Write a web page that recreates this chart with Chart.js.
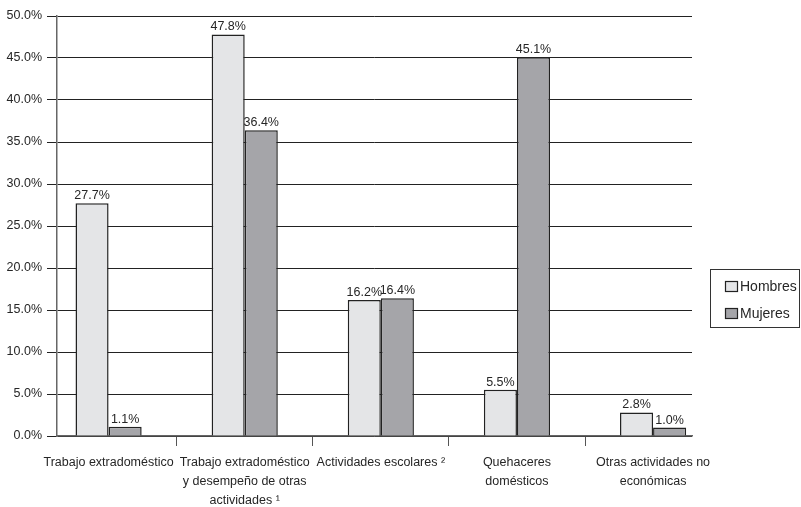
<!DOCTYPE html>
<html><head><meta charset="utf-8">
<script src="https://cdn.jsdelivr.net/npm/chart.js@4.4.0/dist/chart.umd.min.js"></script>
<style>html,body{margin:0;padding:0;background:#fff;overflow:hidden}#wrap{width:801px;height:507px}</style>
</head><body><div id="wrap"><canvas id="c" width="801" height="507"></canvas></div>
<script>
const categories = [
  ["Trabajo extradoméstico"],
  ["Trabajo extradoméstico", "y desempeño de otras", "actividades ¹"],
  ["Actividades escolares ²"],
  ["Quehaceres", "domésticos"],
  ["Otras actividades no", "económicas"]
];
const seriesNames = ["Hombres", "Mujeres"];
const hombres = [27.7, 47.8, 16.2, 5.5, 2.8];
const mujeres = [1.1, 36.4, 16.4, 45.1, 1.0];
const yTickValues = [0, 5, 10, 15, 20, 25, 30, 35, 40, 45, 50];

const FONT = "'Liberation Sans', Arial, sans-serif";
const FS = 12.5;
const TEXT = '#262626';
Chart.defaults.font.family = FONT;
Chart.defaults.font.size = FS;
Chart.defaults.color = TEXT;

const toXY = arr => arr.map((v, i) => ({x: i, y: v}));

const valueLabels = {
  id: 'valueLabels',
  afterDatasetsDraw(chart) {
    const ctx = chart.ctx;
    ctx.save();
    ctx.font = FS + 'px ' + FONT;
    ctx.fillStyle = TEXT;
    ctx.textAlign = 'center';
    ctx.textBaseline = 'alphabetic';
    chart.data.datasets.forEach((ds, di) => {
      const meta = chart.getDatasetMeta(di);
      meta.data.forEach((bar, i) => {
        ctx.fillText(ds.data[i].y.toFixed(1) + '%', bar.x, bar.y - 4);
      });
    });
    ctx.restore();
  }
};

const legendBox = {
  id: 'legendBox',
  afterDraw(chart) {
    const ctx = chart.ctx;
    ctx.save();
    ctx.strokeStyle = '#333';
    ctx.lineWidth = 1;
    ctx.strokeRect(710.5, 269.5, 89, 58);
    ctx.font = '14px ' + FONT;
    ctx.textBaseline = 'middle';
    ctx.textAlign = 'left';
    chart.data.datasets.forEach((ds, i) => {
      const yy = 286 + i * 27;
      ctx.fillStyle = ds.backgroundColor;
      ctx.fillRect(725, yy - 5, 12, 10);
      ctx.strokeStyle = ds.borderColor;
      ctx.lineWidth = 1.2;
      ctx.strokeRect(725.5, yy - 4.5, 12, 10);
      ctx.fillStyle = TEXT;
      ctx.fillText(ds.label, 740, yy + 1);
    });
    ctx.restore();
  }
};

new Chart(document.getElementById('c'), {
  type: 'bar',
  data: {
    datasets: [
      {label: seriesNames[0], data: toXY(hombres), backgroundColor: '#e4e5e7', borderColor: '#222', borderWidth: 1.5},
      {label: seriesNames[1], data: toXY(mujeres), backgroundColor: '#a5a5a9', borderColor: '#222', borderWidth: 1.5}
    ]
  },
  options: {
    responsive: false,
    animation: false,
    devicePixelRatio: 1,
    layout: {padding: {top: 16, right: 109, bottom: 0, left: 0}},
    datasets: {bar: {barPercentage: 1, categoryPercentage: 0.486}},
    plugins: {legend: {display: false}, tooltip: {enabled: false}},
    scales: {
      x: {
        type: 'linear',
        offset: false,
        min: -0.379,
        max: 4.286,
        afterBuildTicks(scale) { scale.ticks = categories.map((c, i) => ({value: i})); },
        afterFit(scale) { scale.height = 71; },
        ticks: {
          autoSkip: false,
          maxRotation: 0,
          padding: 7,
          font: {size: FS, lineHeight: 1.52},
          color: TEXT,
          callback: (v) => categories[Math.round(v)] || ''
        },
        grid: {display: true, offset: true, drawOnChartArea: false, drawTicks: true, tickLength: 10, color: '#555', lineWidth: 1},
        border: {display: true, color: '#666', width: 1.5}
      },
      y: {
        min: 0,
        max: 50,
        afterBuildTicks(scale) { scale.ticks = yTickValues.map(v => ({value: v})); },
        afterFit(scale) { scale.width = 57; },
        ticks: {
          padding: 5,
          font: {size: FS},
          color: TEXT,
          callback: (v) => v.toFixed(1) + '%'
        },
        grid: {color: '#222', lineWidth: 1, drawTicks: true, tickLength: 10},
        border: {display: true, color: '#666', width: 1.5}
      }
    }
  },
  plugins: [valueLabels, legendBox]
});
</script>
</body></html>
